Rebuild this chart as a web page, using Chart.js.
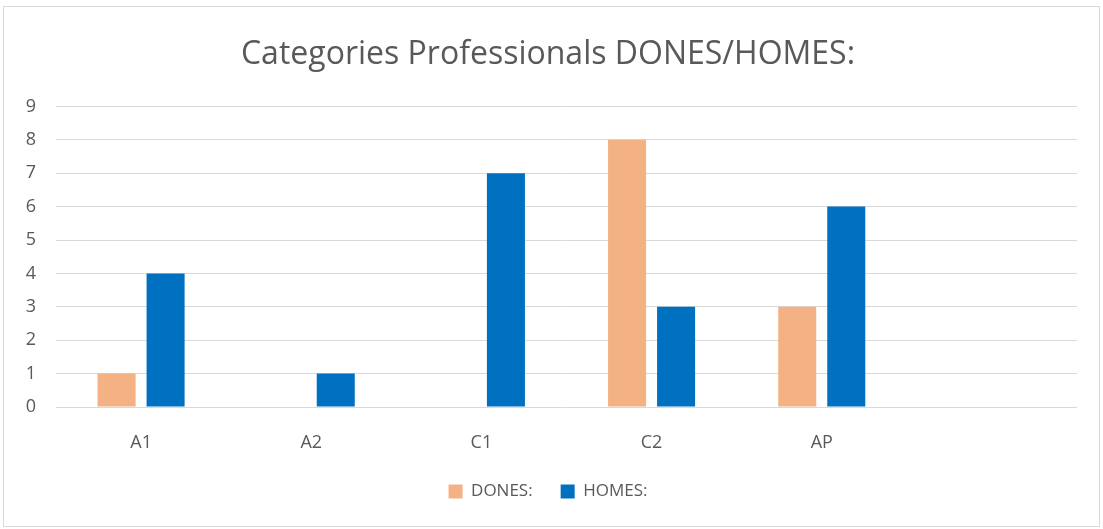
<!DOCTYPE html>
<html>
<head>
<meta charset="utf-8">
<script src="https://cdn.jsdelivr.net/npm/chart.js@4/dist/chart.umd.min.js"></script>
<style>
  html, body { margin: 0; padding: 0; background: #fff; }
  #wrap { width: 1103px; height: 529px; }
</style>
</head>
<body>
<div id="wrap"><canvas id="chart" width="1103" height="529"></canvas></div>
<script>
const categories = ['A1', 'A2', 'C1', 'C2', 'AP', ''];
const dones = [1, 0, 0, 8, 3, null];
const homes = [4, 1, 7, 3, 6, null];
const yTicks = [0, 1, 2, 3, 4, 5, 6, 7, 8, 9];

const textColor = '#595959';
const gridColor = '#d9d9d9';
const fontFamily = "'Open Sans', 'Noto Sans', sans-serif";

// white background and the thin frame around the whole chart
const framePlugin = {
    id: 'frame',
    beforeDraw(chart) {
        const ctx = chart.ctx;
        ctx.save();
        ctx.fillStyle = '#fff';
        ctx.fillRect(0, 0, chart.width, chart.height);
        ctx.strokeStyle = gridColor;
        ctx.lineWidth = 1;
        ctx.strokeRect(3.5, 6.5, chart.width - 7, chart.height - 9);
        ctx.restore();
    }
};

const ctx = document.getElementById('chart').getContext('2d');
new Chart(ctx, {
    type: 'bar',
    data: {
        labels: categories,
        datasets: [
            {
                label: 'DONES:',
                data: dones,
                backgroundColor: '#F4B183',
                borderWidth: 0
            },
            {
                label: 'HOMES:',
                data: homes,
                backgroundColor: '#0070C0',
                borderWidth: 0
            }
        ]
    },
    options: {
        responsive: false,
        animation: false,
        devicePixelRatio: 1,
        categoryPercentage: 0.576,
        barPercentage: 0.776,
        layout: {
            padding: { left: 19, right: 26, top: 0, bottom: 19 }
        },
        scales: {
            x: {
                grid: { display: false },
                border: { display: false },
                ticks: {
                    color: textColor,
                    font: { family: fontFamily, size: 18 },
                    padding: 17,
                    maxRotation: 0,
                    autoSkip: false
                },
                afterFit(scale) { scale.height = 48; }
            },
            y: {
                min: 0,
                max: 9,
                afterBuildTicks(scale) {
                    scale.ticks = yTicks.map(v => ({ value: v }));
                },
                grid: { color: gridColor, lineWidth: 1, drawTicks: false },
                border: { display: false },
                ticks: {
                    color: textColor,
                    font: { family: fontFamily, size: 18 },
                    padding: 20
                },
                afterFit(scale) { scale.width = 37; }
            }
        },
        plugins: {
            title: {
                display: true,
                text: 'Categories Professionals DONES/HOMES:',
                color: textColor,
                font: { family: fontFamily, size: 32, weight: 'normal' },
                padding: { top: 36, bottom: 32 }
            },
            legend: {
                position: 'bottom',
                labels: {
                    color: textColor,
                    font: { family: fontFamily, size: 17 },
                    boxWidth: 14,
                    boxHeight: 14,
                    padding: 28
                }
            },
            tooltip: { enabled: false }
        }
    },
    plugins: [framePlugin]
});
</script>
</body>
</html>
